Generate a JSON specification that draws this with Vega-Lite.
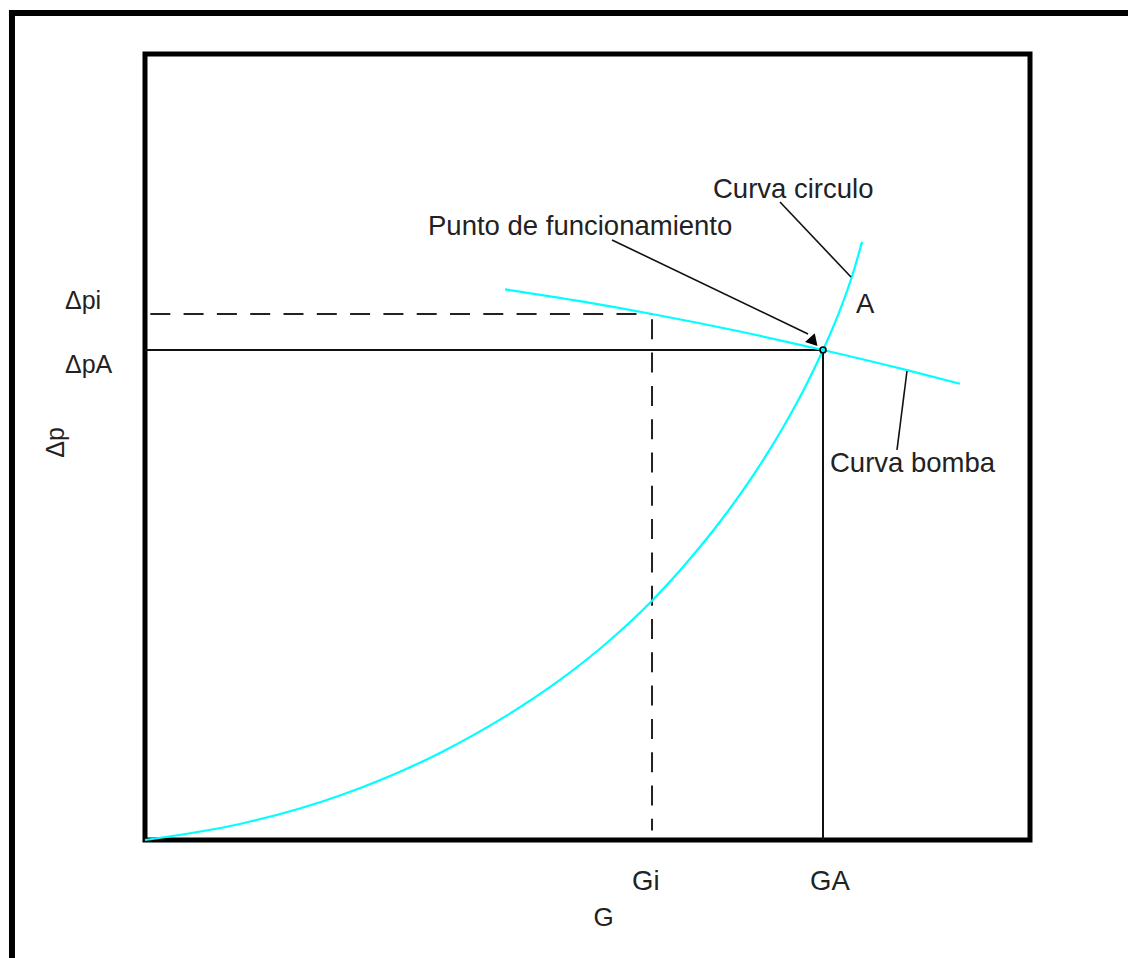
{
  "$schema": "https://vega.github.io/schema/vega-lite/v6.json",
  "width": 885,
  "height": 786,
  "autosize": {"type": "none"},
  "padding": {"left": 145, "top": 54, "right": 98, "bottom": 118},
  "background": "white",
  "config": {
    "view": {"stroke": "#000000", "strokeWidth": 5},
    "font": "Liberation Sans",
    "axis": {"labels": false, "ticks": false, "domain": false, "grid": false, "minExtent": 0, "titleFont": "Liberation Sans", "titleFontWeight": "normal", "titleColor": "#222222"}
  },
  "datasets": {
    "curves": [
      {"series": "circulo", "G": 0, "dp": 0},
      {"series": "circulo", "G": 10.73, "dp": 2.04},
      {"series": "circulo", "G": 22.03, "dp": 5.66},
      {"series": "circulo", "G": 33.33, "dp": 11.08},
      {"series": "circulo", "G": 40.9, "dp": 15.85},
      {"series": "circulo", "G": 46.89, "dp": 20.37},
      {"series": "circulo", "G": 52.2, "dp": 25.1},
      {"series": "circulo", "G": 57.29, "dp": 30.44},
      {"series": "circulo", "G": 61.92, "dp": 36.22},
      {"series": "circulo", "G": 65.76, "dp": 41.67},
      {"series": "circulo", "G": 69.15, "dp": 47.12},
      {"series": "circulo", "G": 72.09, "dp": 52.49},
      {"series": "circulo", "G": 74.8, "dp": 58.09},
      {"series": "circulo", "G": 76.61, "dp": 62.34},
      {"series": "circulo", "G": 77.74, "dp": 65.22},
      {"series": "circulo", "G": 78.87, "dp": 68.44},
      {"series": "circulo", "G": 80.0, "dp": 72.11},
      {"series": "circulo", "G": 81.02, "dp": 76.1},
      {"series": "bomba", "G": 40.68, "dp": 70.05},
      {"series": "bomba", "G": 49.15, "dp": 68.55},
      {"series": "bomba", "G": 57.29, "dp": 66.92},
      {"series": "bomba", "G": 67.23, "dp": 64.69},
      {"series": "bomba", "G": 76.61, "dp": 62.34},
      {"series": "bomba", "G": 86.1, "dp": 59.78},
      {"series": "bomba", "G": 92.09, "dp": 58.04}
    ],
    "dashed": [
      {"G": 0, "dp": 66.92, "G2": 57.29, "dp2": 66.92},
      {"G": 57.29, "dp": 66.92, "G2": 57.29, "dp2": 1.2}
    ],
    "solid": [
      {"G": 0, "dp": 62.34, "G2": 76.61, "dp2": 62.34},
      {"G": 76.61, "dp": 62.34, "G2": 76.61, "dp2": 0}
    ],
    "leaders": [
      {"name": "funcionamiento", "G": 52.77, "dp": 76.34, "G2": 74.92, "dp2": 64.38},
      {"name": "circulo", "G": 71.75, "dp": 81.17, "G2": 79.77, "dp2": 71.63},
      {"name": "bomba", "G": 86.1, "dp": 59.67, "G2": 84.97, "dp2": 49.62}
    ],
    "arrowhead": [{"G": 75.48, "dp": 63.8}],
    "pointA": [{"G": 76.61, "dp": 62.34}],
    "labels": [
      {"label": "Curva circulo", "G": 64.18, "dp": 82.7},
      {"label": "Punto de funcionamiento", "G": 31.98, "dp": 78.05},
      {"label": "A", "G": 80.34, "dp": 68.1},
      {"label": "Curva bomba", "G": 77.4, "dp": 47.8},
      {"label": "Gi", "G": 55.03, "dp": -5.3},
      {"label": "GA", "G": 75.14, "dp": -5.3}
    ],
    "dlabels": [
      {"label": "Δpi", "G": -9.04, "dp": 68.57},
      {"label": "ΔpA", "G": -9.04, "dp": 60.4}
    ],
    "border": [
      {"G": -15.03, "dp": 105.22, "G2": -15.03, "dp2": -30},
      {"G": -15.03, "dp": 105.22, "G2": 130, "dp2": 105.22}
    ]
  },
  "encoding": {
    "x": {"field": "G", "type": "quantitative", "scale": {"domain": [0, 100], "nice": false, "zero": false},
          "axis": {"title": "G", "titleFontSize": 26, "titlePadding": 64, "titleX": 458}},
    "y": {"field": "dp", "type": "quantitative", "scale": {"domain": [0, 100], "nice": false, "zero": false},
          "axis": {"title": "Δp", "titleFontSize": 25, "titlePadding": 77, "titleY": 388}}
  },
  "layer": [
    {"data": {"name": "border"}, "mark": {"type": "rule", "color": "#000000", "strokeWidth": 6, "strokeCap": "square"},
     "encoding": {"x2": {"field": "G2"}, "y2": {"field": "dp2"}}},
    {"data": {"name": "dashed"}, "mark": {"type": "rule", "color": "#222222", "strokeWidth": 2, "strokeDash": [20, 13.3], "strokeDashOffset": 28},
     "encoding": {"x2": {"field": "G2"}, "y2": {"field": "dp2"}}},
    {"data": {"name": "solid"}, "mark": {"type": "rule", "color": "#111111", "strokeWidth": 2},
     "encoding": {"x2": {"field": "G2"}, "y2": {"field": "dp2"}}},
    {"data": {"name": "curves"}, "mark": {"type": "line", "color": "#00ffff", "strokeWidth": 2.2, "interpolate": "monotone"},
     "encoding": {"detail": {"field": "series", "type": "nominal"}}},
    {"data": {"name": "leaders"}, "mark": {"type": "rule", "color": "#111111", "strokeWidth": 1.6},
     "encoding": {"x2": {"field": "G2"}, "y2": {"field": "dp2"}}},
    {"data": {"name": "arrowhead"}, "mark": {"type": "point", "shape": "triangle-up", "filled": true, "color": "#000000", "size": 170, "angle": 18, "opacity": 1}},
    {"data": {"name": "pointA"}, "mark": {"type": "point", "shape": "circle", "filled": true, "fill": "#00ffff", "stroke": "#000000", "strokeWidth": 1.6, "size": 35, "opacity": 1}},
    {"data": {"name": "labels"}, "mark": {"type": "text", "align": "left", "baseline": "middle", "fontSize": 27.5, "color": "#222222", "font": "Liberation Sans"},
     "encoding": {"text": {"field": "label"}}},
    {"data": {"name": "dlabels"}, "mark": {"type": "text", "align": "left", "baseline": "middle", "fontSize": 25, "color": "#222222", "font": "Liberation Sans"},
     "encoding": {"text": {"field": "label"}}}
  ]
}
